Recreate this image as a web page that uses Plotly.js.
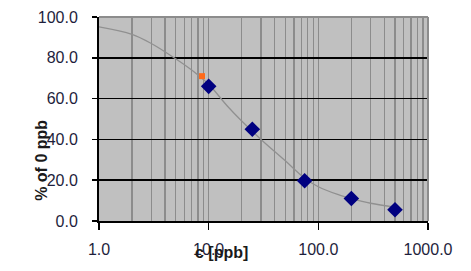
<!DOCTYPE html>
<html><head><meta charset="utf-8">
<script src="https://cdn.plot.ly/plotly-3.0.1.min.js"></script>
<style>html,body{margin:0;padding:0;background:#fff;}#chart{width:471px;height:271px;}</style>
</head><body><div id="chart"></div>
<script>
// measured standards
const stdConc = [10, 25, 75, 200, 500];
const stdPct = [66, 45, 19.7, 11, 5.5];
// fitted curve
const curveConc = [1, 2, 3, 5, 7, 8, 10, 15, 20, 30, 50, 75, 100, 150, 200, 300, 500];
const curvePct = [95.2, 91.5, 87, 79.5, 74, 71.5, 67, 56, 49, 40, 29.5, 21, 16.8, 13, 11, 8.7, 6.8];
// sample
const sampleConc = [8.7];
const samplePct = [71];
const xTicks = [1, 10, 100, 1000];
const xTickText = ['1.0', '10.0', '100.0', '1000.0'];
const yTicks = [0, 20, 40, 60, 80, 100];
const yTickText = ['0.0', '20.0', '40.0', '60.0', '80.0', '100.0'];

const minorVals = [];
for (const d of [1, 10, 100]) for (let k = 2; k <= 9; k++) minorVals.push(k * d);

const labelColor = '#1e1e3c';
const data = [
  {x: curveConc, y: curvePct, mode: 'lines', line: {color: '#909090', width: 1.3, shape: 'spline'}, hoverinfo: 'skip'},
  {x: stdConc, y: stdPct, mode: 'markers', marker: {symbol: 'diamond', color: '#000080', size: 12}},
  {x: sampleConc, y: samplePct, mode: 'markers', marker: {symbol: 'square', color: '#ff6a1a', size: 6}}
];
const layout = {
  width: 471, height: 271,
  margin: {l: 99, r: 43, t: 17, b: 50},
  paper_bgcolor: '#ffffff', plot_bgcolor: '#c0c0c0',
  showlegend: false,
  font: {family: 'Liberation Sans, Arial, sans-serif', size: 16, color: labelColor},
  xaxis: {
    type: 'log', range: [0, 3],
    tickvals: xTicks, ticktext: xTickText,
    ticks: 'outside', ticklen: 7, tickcolor: '#000', tickwidth: 1.5,
    showgrid: true, gridcolor: '#8c8c8c', gridwidth: 1.5,
    minor: {tickvals: minorVals, showgrid: true, gridcolor: '#8c8c8c', gridwidth: 1.5, ticks: ''},
    showline: true, linecolor: '#000', linewidth: 2, mirror: false,
    zeroline: false, ticklabelstandoff: 6,
    tickfont: {size: 16, color: labelColor}
  },
  yaxis: {
    range: [0, 100],
    tickvals: yTicks, ticktext: yTickText,
    ticks: 'outside', ticklen: 5, tickcolor: '#000', tickwidth: 1.5,
    showgrid: true, gridcolor: '#000', gridwidth: 1.5,
    showline: true, linecolor: '#000', linewidth: 2,
    zeroline: false, ticklabelstandoff: 11,
    tickfont: {size: 16, color: labelColor}
  },
  shapes: [
    {type: 'line', xref: 'paper', yref: 'paper', x0: 0, x1: 1, y0: 1, y1: 1, line: {color: '#8c8c8c', width: 2}},
    {type: 'line', xref: 'paper', yref: 'paper', x0: 1, x1: 1, y0: 0, y1: 1, line: {color: '#8c8c8c', width: 2}}
  ],
  annotations: [
    {text: '<b>c [ppb]</b>', xref: 'paper', yref: 'paper', x: (221 - 99) / 328, y: -(253 - 221) / 204, xanchor: 'center', yanchor: 'middle', showarrow: false, font: {size: 16, color: '#1a1a1a'}},
    {text: '<b>% of 0 ppb</b>', xref: 'paper', yref: 'paper', x: -(99 - 41) / 328, y: (221 - 160) / 204, xanchor: 'center', yanchor: 'middle', textangle: -90, showarrow: false, font: {size: 16, color: '#1a1a1a'}}
  ]
};
Plotly.newPlot('chart', data, layout, {displayModeBar: false, staticPlot: true});
</script></body></html>
